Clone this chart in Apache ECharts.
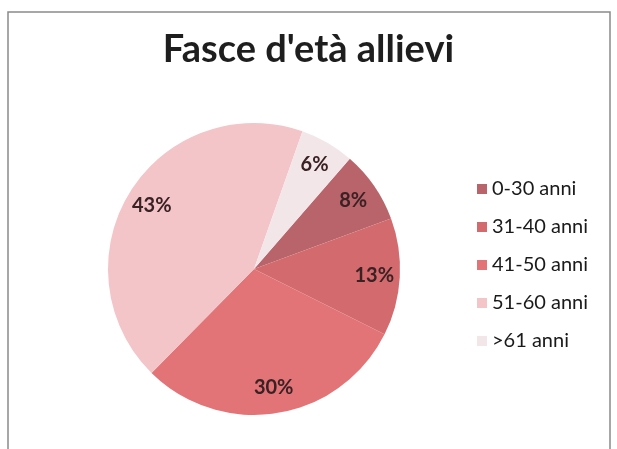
<!DOCTYPE html>
<html>
<head>
<meta charset="utf-8">
<script src="https://cdn.jsdelivr.net/npm/echarts@6/dist/echarts.min.js"></script>
<style>
  html, body { margin: 0; padding: 0; background: #fff; }
  #pieChart { width: 617px; height: 449px; }
</style>
</head>
<body>
<div id="pieChart"></div>
<script>
const categories = ['0-30 anni', '31-40 anni', '41-50 anni', '51-60 anni', '>61 anni']
const values = [8, 13, 30, 43, 6]
const colors = ['#b9636a', '#d36b6e', '#e27477', '#f3c4c8', '#f2e6e8']

const chart = echarts.init(document.getElementById('pieChart'))
const pieData = categories.map((name, i) => ({ name, value: values[i] }))

chart.setOption({
  color: colors,
  title: {
    text: "Fasce d'età allievi",
    left: 'center',
    top: 26,
    textStyle: {
      fontFamily: 'Lato',
      fontWeight: 'bold',
      fontSize: 38,
      color: '#1e1e1e'
    }
  },
  legend: {
    orient: 'vertical',
    left: 472,
    top: 174,
    itemWidth: 10,
    itemHeight: 10,
    itemGap: 18,
    icon: 'rect',
    textStyle: {
      fontFamily: 'Lato',
      fontSize: 20,
      color: '#1a1a1a'
    },
    data: categories
  },
  graphic: [
    {
      type: 'rect',
      shape: { x: 8, y: 12, width: 602, height: 460 },
      style: { fill: 'none', stroke: '#8a8a8a', lineWidth: 1.5 },
      silent: true
    }
  ],
  series: [
    {
      // the pie itself
      type: 'pie',
      center: [254, 269],
      radius: [0, 146],
      startAngle: 49,
      label: { show: false },
      labelLine: { show: false },
      itemStyle: { borderWidth: 0 },
      emphasis: { disabled: true },
      data: pieData
    },
    {
      // transparent ring, only to put the % labels near the rim
      type: 'pie',
      center: [254, 269],
      radius: [85, 150],
      startAngle: 49,
      silent: true,
      itemStyle: { color: 'rgba(0,0,0,0)' },
      label: {
        show: true,
        position: 'inside',
        formatter: '{c}%',
        fontFamily: 'Lato',
        fontSize: 20,
        fontWeight: 'bold',
        color: '#3a2224'
      },
      labelLine: { show: false },
      data: pieData
    }
  ]
})
</script>
</body>
</html>
